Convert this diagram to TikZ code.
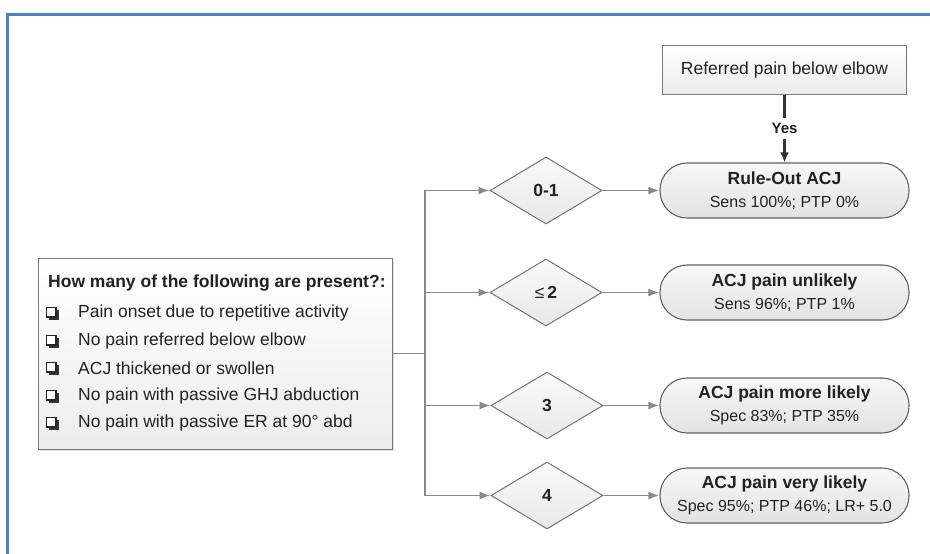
\documentclass[tikz,border=0pt]{standalone}
\usepackage{fontspec}
\setmainfont{Liberation Sans}
\usetikzlibrary{shapes.geometric,shadows,arrows.meta}
\definecolor{frameblue}{HTML}{4F81BD}
\definecolor{ink}{HTML}{222222}
\definecolor{linegray}{HTML}{888888}
\definecolor{bordergray}{HTML}{7A7A7A}
\definecolor{darkline}{HTML}{333333}
\newcommand{\bigtext}{\fontsize{17.5}{21}\selectfont}
\newcommand{\subtext}{\fontsize{16}{19}\selectfont}
\begin{document}
\begin{tikzpicture}[x=1pt,y=-1pt,font=\bigtext,text=ink,
  questionbox/.style={draw=bordergray,line width=1pt,top color=white,bottom color=black!7,
    minimum width=354pt,minimum height=191pt,inner sep=0pt,
    drop shadow={opacity=0.25,shadow xshift=2pt,shadow yshift=-2pt}},
  refbox/.style={draw=bordergray,line width=1pt,top color=white,bottom color=black!8,
    minimum width=244pt,minimum height=49pt,inner sep=0pt},
  outcome/.style={draw=black!62,line width=1.1pt,top color=black!3,bottom color=black!11,
    rounded corners=27pt,minimum width=249pt,minimum height=55pt,inner sep=0pt,align=center},
  decision/.style={diamond,draw=black!55,line width=1pt,top color=black!2,bottom color=black!9,
    minimum width=112pt,minimum height=67pt,inner sep=0pt,aspect=1.67,font=\bigtext\bfseries},
  itemtext/.style={anchor=west,inner sep=0pt},
  flow/.style={draw=linegray,line width=1.9pt,-{Latex[length=11pt,width=8pt]}},
  plainline/.style={draw=linegray,line width=1.9pt},
  yesline/.style={draw=darkline,line width=2.4pt,-{Latex[length=10pt,width=9pt]}},
  chk/.pic={
    \fill[black!80] (-3,-3) rectangle (6.5,6.5);
    \draw[black!85,fill=white,line width=1.1pt] (-5.5,-5.5) rectangle (4,4);
  }]
\useasboundingbox (0,0) rectangle (930,554);

% page frame
\draw[frameblue,line width=2.6pt] (7.7,556) -- (7.7,14.7) -- (932,14.7);

% question box with its checklist
\node[questionbox] (q) at (215,353.5) {};
\node[itemtext,font=\bigtext\bfseries] (qtitle) at (48,283) {How many of the following are present?:};
\foreach \yy/\txt [count=\i] in {313/Pain onset due to repetitive activity,
    341/No pain referred below elbow,
    368/ACJ thickened or swollen,
    396/No pain with passive GHJ abduction,
    423/No pain with passive ER at 90\textdegree\ abd}{
  \pic at (52,\yy) {chk};
  \node[itemtext] (item\i) at (78,\yy) {\txt};
}

% decisions
\node[decision] (d1) at (546,190.5) {0-1};
\node[decision] (d2) at (546,292.5) {{\mdseries ≤}\,2};
\node[decision] (d3) at (547,405.5) {3};
\node[decision] (d4) at (547,495.5) {4};

% outcomes
\node[outcome] (o1) at (784.5,190.5) {\textbf{Rule-Out ACJ}\\[2pt]{\subtext Sens 100\%; PTP 0\%}};
\node[outcome] (o2) at (784.5,292.5) {\textbf{ACJ pain unlikely}\\[2pt]{\subtext Sens 96\%; PTP 1\%}};
\node[outcome] (o3) at (784.5,405.5) {\textbf{ACJ pain more likely}\\[2pt]{\subtext Spec 83\%; PTP 35\%}};
\node[outcome] (o4) at (784.5,495.5) {\textbf{ACJ pain very likely}\\[2pt]{\subtext Spec 95\%; PTP 46\%; LR+ 5.0}};

% referral check
\node[refbox] (ref) at (784.5,69.5) {Referred pain below elbow};

% connectors
\coordinate (trunk) at (425,353.5);
\draw[plainline] (q.east) -- (trunk);
\draw[flow] (trunk) |- (d1);
\draw[flow] (trunk) |- (d2);
\draw[flow] (trunk) |- (d3);
\draw[flow] (trunk) |- (d4);
\draw[flow] (d1) -- (o1);
\draw[flow] (d2) -- (o2);
\draw[flow] (d3) -- (o3);
\draw[flow] (d4) -- (o4);
\draw[yesline] (ref) -- node[fill=white,inner xsep=3pt,inner ysep=5pt,text height=11pt,text depth=0pt,
  font=\fontsize{15}{18}\selectfont\bfseries] (yes) {Yes} (o1);
\end{tikzpicture}
\end{document}
